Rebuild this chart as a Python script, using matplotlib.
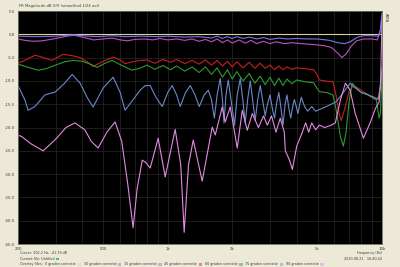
import matplotlib
matplotlib.use("Agg")
import matplotlib.pyplot as plt
from matplotlib.ticker import FixedLocator, NullFormatter

# ---------------- data ----------------
f0 = [200, 10000]
db0 = [0.0, 0.0]

f15 = [200, 240, 300, 361, 400, 470, 550, 630, 750, 900, 1000, 1200, 1400, 1600, 1700, 1800,
       1900, 2000, 2100, 2250, 2400, 2600, 2800, 3000, 3300, 3600, 4000, 4500, 5000, 5700,
       6200, 6700, 7100, 7700, 8200, 9000, 9600, 9850, 10000]
db15 = [-0.4, -0.5, -0.4, -0.1, -0.3, -0.5, -0.3, -0.5, -0.4, -0.5, -0.4, -0.6, -0.5, -0.8, -0.4, -0.9,
        -0.5, -0.9, -0.5, -0.9, -0.6, -1.0, -0.7, -1.1, -0.8, -1.0, -0.9, -1.0, -1.0, -1.3,
        -1.8, -2.0, -1.6, -0.6, -0.3, -0.3, -0.4, 1.0, 4.5]

f30 = [200, 215, 235, 260, 300, 340, 365, 400, 450, 500, 550, 600, 650, 700, 780, 850, 920, 1000,
       1100, 1200, 1300, 1400, 1500, 1600, 1700, 1800, 1900, 2000, 2150, 2300, 2450, 2600, 2800,
       3000, 3200, 3500, 3800, 4200, 4800, 5300, 5800, 6200, 6500, 6800, 7200, 7600, 8200, 9000,
       9500, 9800, 10000]
db30 = [-1.0, -1.3, -1.5, -1.4, -0.9, -0.4, -0.2, -0.6, -1.2, -1.0, -0.8, -1.2, -1.4, -1.1, -1.0, -1.2, -0.9, -1.2,
        -1.0, -1.3, -1.0, -1.5, -1.1, -1.6, -1.0, -1.8, -1.2, -1.9, -1.2, -1.9, -1.3, -2.0, -1.5,
        -2.0, -1.6, -2.0, -1.8, -2.0, -2.2, -2.4, -2.8, -4.0, -5.0, -4.2, -2.5, -1.4, -1.0, -1.0,
        -1.2, 0.5, 4.0]

f45 = [200, 215, 240, 255, 288, 310, 325, 360, 390, 420, 448, 500, 556, 600, 632, 700, 750,
       800, 870, 950, 1030, 1100, 1200, 1300, 1400, 1500, 1600, 1700, 1800, 1900, 2000, 2100,
       2250, 2400, 2550, 2700, 2850, 3000, 3150, 3300, 3450, 3600, 3800, 4000, 4400, 4800, 4950,
       5100, 5400, 5900, 6100, 6300, 6450, 6700, 7000, 7300, 7700, 8300, 8900, 9300, 9600, 9850, 10000]
db45 = [-6.2, -5.6, -4.5, -4.8, -5.6, -4.8, -4.3, -4.6, -5.0, -5.9, -6.9, -5.8, -4.9, -5.5, -6.3, -5.8, -5.6,
        -5.5, -6.2, -5.4, -6.0, -5.4, -6.3, -5.6, -6.4, -5.5, -6.6, -5.6, -6.8, -5.8, -7.0, -5.9,
        -7.2, -6.0, -7.3, -6.2, -7.3, -6.6, -7.6, -6.8, -7.6, -7.0, -7.5, -7.2, -7.4, -7.6, -8.5,
        -9.8, -10.0, -10.2, -13.0, -17.0, -18.5, -16.0, -12.5, -11.2, -11.5, -12.5, -13.5, -14.0, -13.5, -11.0, -8.0]

f60 = [200, 220, 248, 270, 300, 330, 361, 400, 440, 468, 510, 550, 600, 680, 750,
       800, 870, 950, 1030, 1100, 1200, 1300, 1400, 1500, 1600, 1700, 1800, 1900, 2000, 2100,
       2250, 2400, 2550, 2700, 2850, 3000, 3150, 3300, 3450, 3600, 3800, 4000, 4400, 4800, 4950,
       5100, 5500, 5900, 6100, 6400, 6600, 6800, 7000, 7250, 7600, 8000, 8500, 9000, 9400, 9700,
       9830, 10000]
db60 = [-6.4, -7.0, -7.7, -7.4, -6.6, -5.9, -5.6, -5.8, -6.5, -7.1, -6.2, -5.6, -6.5, -7.7, -7.2,
        -6.6, -7.5, -6.7, -7.6, -6.8, -7.9, -7.0, -8.2, -7.0, -8.6, -7.2, -9.2, -7.6, -9.6, -8.0,
        -10.0, -8.4, -10.5, -9.0, -10.8, -9.2, -11.0, -9.4, -11.0, -9.6, -10.6, -9.8, -10.2, -10.4, -11.5,
        -12.3, -12.5, -13.0, -16.0, -22.0, -24.0, -21.0, -15.0, -10.5, -11.5, -12.5, -12.8, -13.5, -14.0, -18.0,
        -17.0, -9.0]

f75 = [200, 215, 223, 240, 267, 298, 330, 358, 390, 420, 448, 500, 556, 600, 632, 690, 743,
       785, 828, 880, 942, 1000, 1049, 1100, 1143, 1210, 1273, 1340, 1403, 1480, 1545, 1600,
       1650, 1700, 1758, 1800, 1830, 1870, 1916, 1980, 2050, 2110, 2180, 2240, 2300, 2360, 2428,
       2490, 2560, 2630, 2703, 2780, 2850, 2920, 3000, 3080, 3150, 3230, 3300, 3380, 3450, 3530,
       3600, 3680, 3750, 3830, 3900, 3980, 4050, 4130, 4200, 4350, 4500, 4700, 4900, 5500, 6100,
       6600, 7100, 7500, 8000, 8600, 9200, 9600, 9850, 10000]
db75 = [-11.0, -14.0, -16.3, -15.5, -13.0, -12.4, -10.5, -8.6, -10.5, -13.5, -15.6, -11.5, -9.2, -12.5, -16.3, -14.0, -12.0,
        -11.0, -11.0, -13.5, -15.5, -12.5, -11.0, -13.0, -15.5, -12.5, -11.0, -13.0, -15.5, -13.0, -12.0, -14.0,
        -18.0, -13.0, -9.5, -14.0, -19.0, -13.0, -9.8, -14.5, -19.5, -13.0, -9.5, -14.0, -19.0, -14.0, -10.0,
        -14.0, -18.5, -14.0, -11.0, -14.5, -17.5, -15.0, -13.0, -16.0, -18.0, -14.5, -12.5, -16.0, -19.5, -15.0,
        -13.0, -16.0, -18.0, -15.5, -14.0, -15.5, -17.0, -15.0, -13.5, -15.5, -16.5, -15.5, -16.5, -15.5, -14.5,
        -12.5, -10.5, -11.5, -12.5, -13.0, -13.5, -14.0, -11.0, -7.0]

f90 = [200, 209, 230, 262, 300, 335, 369, 410, 440, 473, 520, 568, 610, 650, 689, 720, 743,
       760, 790, 828, 902, 973, 1083, 1150, 1193, 1250, 1315, 1448, 1613, 1666, 1796, 1855, 1958,
       2110, 2228, 2350, 2481, 2650, 2800, 2915, 3050, 3200, 3350, 3500, 3538, 3700, 3815, 4000,
       4248, 4400, 4550, 4700, 4900, 5100, 5400, 5800, 6057, 6400, 6750, 7100, 7500, 8189, 8800,
       9300, 9700, 9850, 10000]
db90 = [-21.6, -22.0, -23.5, -25.0, -22.5, -20.0, -19.0, -20.5, -23.0, -24.4, -21.0, -18.8, -23.0, -32.0, -41.5, -33.0, -29.6,
        -27.0, -27.5, -28.7, -22.3, -30.6, -20.4, -28.0, -42.5, -28.0, -22.7, -31.5, -19.9, -21.6, -15.6, -18.8, -15.6,
        -24.4, -16.3, -20.6, -17.0, -20.0, -17.5, -19.5, -17.5, -21.0, -18.0, -21.0, -25.0, -27.0, -29.0, -24.0,
        -21.0, -19.0, -21.0, -19.0, -20.5, -19.5, -20.0, -19.5, -19.0, -14.0, -10.5, -12.0, -17.0, -22.3, -19.0,
        -16.0, -14.5, -10.0, 3.0]

series = [
    ("0 graden correctie", f0, db0, "#d8cfa0"),
    ("30 graden correctie", f30, db30, "#c050c0"),
    ("15 graden correctie", f15, db15, "#7878e8"),
    ("45 graden correctie", f45, db45, "#c81e1e"),
    ("60 graden correctie", f60, db60, "#2e9a2e"),
    ("75 graden correctie", f75, db75, "#6a88c8"),
    ("90 graden correctie", f90, db90, "#e28ae2"),
]

xticks = [200, 500, 1000, 2000, 5000, 10000]
xticklabels = ["200", "500", "1k", "2k", "5k", "10k"]
yticks = [5, 0, -5, -10, -15, -20, -25, -30, -35, -40, -45]
ytick_labels = ["5.0", "0.0", "-5.0", "-10.0", "-15.0", "-20.0", "-25.0", "-30.0", "-35.0", "-40.0", "-45.0"]

# ---------------- figure ----------------
BG = "#ECE9D8"
TXT = "#3c3c3c"
FS = 2.4
W, H = 400.0, 267.0
fig = plt.figure(figsize=(4.0, 2.67), dpi=100, facecolor=BG)
ax = fig.add_axes([0.045, 0.0861, 0.91, 0.8727], facecolor="black")
ax.set_xscale("log")
ax.set_xlim(200, 10000)
ax.set_ylim(-45, 5)

minor = [m * d for d in (100, 1000) for m in range(2, 10)] + [10000]
ax.xaxis.set_major_locator(FixedLocator(xticks))
ax.xaxis.set_minor_locator(FixedLocator(minor))
ax.set_xticklabels(xticklabels)
ax.xaxis.set_minor_formatter(NullFormatter())
ax.set_yticks(yticks)
ax.set_yticklabels(ytick_labels)
ax.grid(True, which="both", color="#222222", lw=0.6)
ax.tick_params(axis="both", which="both", length=0, labelsize=2.8, colors=TXT, pad=2)
for sp in ax.spines.values():
    sp.set_color("#6a6a60")
    sp.set_linewidth(0.6)

for name, f, d, c in series:
    ax.plot(f, d, color=c, lw=0.8)

fig.text(0.047, 0.977, "FR Magnitude dB V/V (smoothed 1/24 oct)", fontsize=2.7, color=TXT,
         ha="left", va="center")
fig.text(0.96, 0.935, "ARTA", fontsize=2.6, color=TXT, rotation=-90, ha="left", va="center")

fig.text(0.05, 0.052, "Cursor: 202.2 Hz, -41.79 dB", fontsize=FS, color=TXT, va="center")
fig.text(0.955, 0.052, "Frequency (Hz)", fontsize=FS, color=TXT, ha="right", va="center")
fig.text(0.955, 0.030, "2010-08-21   16:40:24", fontsize=FS, color=TXT, ha="right", va="center")

renderer = fig.canvas.get_renderer()


def text_with_swatch(x, y, s, color, alpha):
    t = fig.text(x, y, s, fontsize=FS, color=TXT, va="center")
    bb = t.get_window_extent(renderer=renderer)
    xs = bb.x1 / W + 0.004
    fig.patches.append(plt.Rectangle((xs, y - 0.0055), 0.008, 0.011, transform=fig.transFigure,
                                     facecolor=color, edgecolor="none", alpha=alpha))
    return xs + 0.008


text_with_swatch(0.05, 0.030, "Current file: Untitled", "#40d040", 1.0)

t = fig.text(0.05, 0.011, "Overlay files:", fontsize=FS, color=TXT, va="center")
x = t.get_window_extent(renderer=renderer).x1 / W + 0.006
for name, f, d, c in series:
    x = text_with_swatch(x, 0.011, name, c, 0.45) + 0.007

fig.savefig("out.png", dpi=100, facecolor=BG)
